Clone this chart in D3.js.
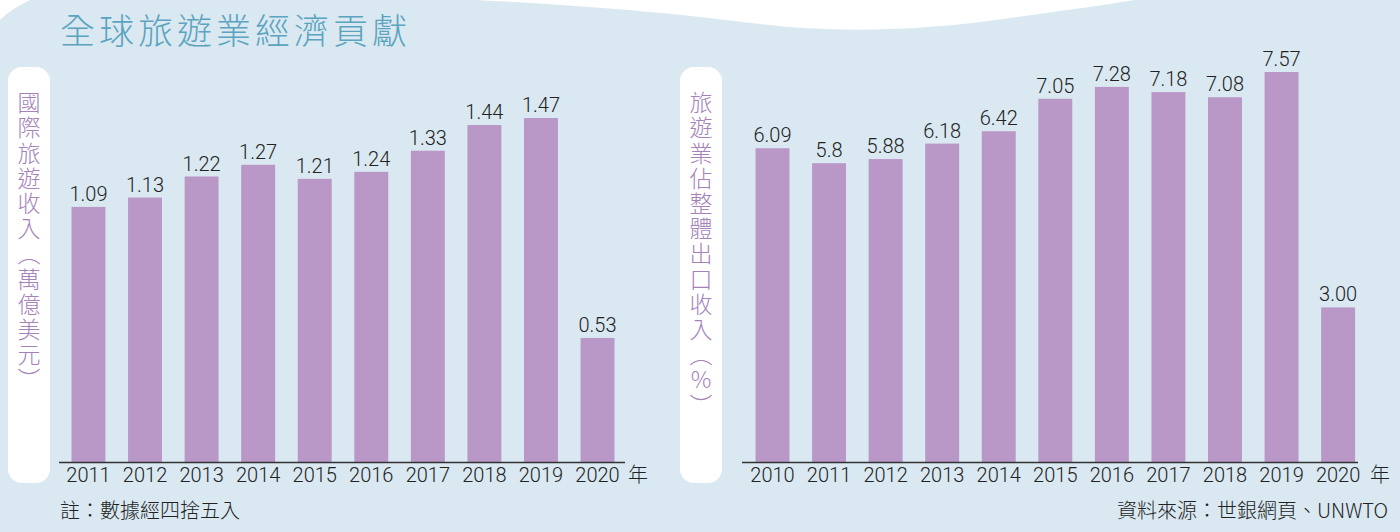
<!DOCTYPE html>
<html><head><meta charset="utf-8">
<script src="https://cdn.jsdelivr.net/npm/d3@7"></script>
<style>html,body{margin:0;padding:0;background:#d9e8f1;} svg{display:block}</style>
</head><body><svg id="c" width="1400" height="532"></svg>
<script>
// ---- data ----
const titleText = "全球旅遊業經濟貢獻";
const leftYears = ["2011","2012","2013","2014","2015","2016","2017","2018","2019","2020"];
const leftValues = [1.09,1.13,1.22,1.27,1.21,1.24,1.33,1.44,1.47,0.53];
const leftLabels = ["1.09","1.13","1.22","1.27","1.21","1.24","1.33","1.44","1.47","0.53"];
const rightYears = ["2010","2011","2012","2013","2014","2015","2016","2017","2018","2019","2020"];
const rightValues = [6.09,5.8,5.88,6.18,6.42,7.05,7.28,7.18,7.08,7.57,3.00];
const rightLabels = ["6.09","5.8","5.88","6.18","6.42","7.05","7.28","7.18","7.08","7.57","3.00"];
const leftAxisTitle = "國際旅遊收入（萬億美元）";
const rightAxisTitle = "旅遊業佔整體出口收入（%）";
const unitLabel = "年";
const noteText = "註：數據經四捨五入";
const sourceText = "資料來源：世銀網頁、UNWTO";

// ---- style ----
const BG = "#d9e8f1", BAR = "#b997c7", TITLE = "#5ba4c0", YLAB = "#a582b8", INK = "#222";
const CJK = "'Noto Sans CJK TC','Noto Sans CJK SC',sans-serif";
const NUM = "Roboto,'Liberation Sans',Arial,sans-serif";

const svg = d3.select("#c");
svg.append("rect").attr("width",1400).attr("height",532).attr("fill",BG);

// white wave at top
svg.append("path").attr("fill","#fff")
  .attr("d","M475,0 C600,6 680,14 760,24 C840,34 930,30 1010,18 C1070,10 1110,4 1135,0 Z");
svg.append("path").attr("fill","#fff").attr("d","M0,0 L30,0 C18,6 8,12 0,20 Z");

// title
svg.append("text").text(titleText)
  .attr("x",60).attr("y",44)
  .attr("font-family",CJK).attr("font-size",35).attr("font-weight",300)
  .attr("letter-spacing",4).attr("fill",TITLE);

const baseY = 462;

function panel(cfg){
  const g = svg.append("g");
  // axis title box
  g.append("rect").attr("x",cfg.boxX).attr("y",67).attr("width",42).attr("height",416)
    .attr("rx",14).attr("fill","#fff");
  g.append("text").text(cfg.axisTitle)
    .attr("x",cfg.boxX+21).attr("y",91)
    .style("writing-mode","vertical-rl").style("text-orientation","upright")
    .attr("letter-spacing",2.2)
    .attr("font-family",CJK).attr("font-size",23).attr("font-weight",300)
    .attr("fill",YLAB);

  const x = d3.scaleBand().domain(cfg.years).range(cfg.range)
    .paddingInner(0.4).paddingOuter(cfg.po);
  const y = d3.scaleLinear().domain([0,cfg.max]).range([baseY,cfg.topY]);

  g.append("g").selectAll("rect").data(cfg.values).join("rect")
    .attr("x",(d,i)=>x(cfg.years[i])).attr("width",x.bandwidth())
    .attr("y",d=>y(d)).attr("height",d=>baseY-y(d)).attr("fill",BAR);

  g.append("g").selectAll("text").data(cfg.values).join("text")
    .text((d,i)=>cfg.labels[i])
    .attr("x",(d,i)=>x(cfg.years[i])+x.bandwidth()/2)
    .attr("y",d=>y(d)-6)
    .attr("text-anchor","middle")
    .attr("font-family",NUM).attr("font-size",20).attr("font-weight",300).attr("fill",INK);

  // axis line
  g.append("line").attr("x1",cfg.lineX[0]).attr("x2",cfg.lineX[1])
    .attr("y1",baseY+0.5).attr("y2",baseY+0.5)
    .attr("stroke","#333").attr("stroke-width",1.5);

  const ax = g.append("g").attr("transform",`translate(0,${baseY})`)
    .call(d3.axisBottom(x).tickSize(0).tickPadding(0));
  ax.select(".domain").remove();
  ax.selectAll("text").attr("y",20).attr("dy",0)
    .attr("font-family",NUM).attr("font-size",20).attr("font-weight",300).attr("fill",INK);

  g.append("text").text(unitLabel)
    .attr("x",cfg.lineX[1]+ (cfg.unitOff)).attr("y",baseY+20)
    .attr("font-family",CJK).attr("font-size",20).attr("font-weight",300).attr("fill",INK);
}

panel({boxX:8, axisTitle:leftAxisTitle, years:leftYears, values:leftValues, labels:leftLabels,
  range:[59,627], po:0.221, max:1.47, topY:118, lineX:[59,625], unitOff:3});
panel({boxX:680, axisTitle:rightAxisTitle, years:rightYears, values:rightValues, labels:rightLabels,
  range:[742,1368.6], po:0.239, max:7.57, topY:72, lineX:[742,1358], unitOff:12});

svg.append("text").text(noteText).attr("x",60).attr("y",518)
  .attr("font-family",CJK).attr("font-size",20).attr("font-weight",300).attr("fill",INK);
svg.append("text").text(sourceText).attr("x",1388).attr("y",518).attr("text-anchor","end")
  .attr("font-family",CJK).attr("font-size",20).attr("font-weight",300).attr("fill",INK);
</script>
</body></html>
